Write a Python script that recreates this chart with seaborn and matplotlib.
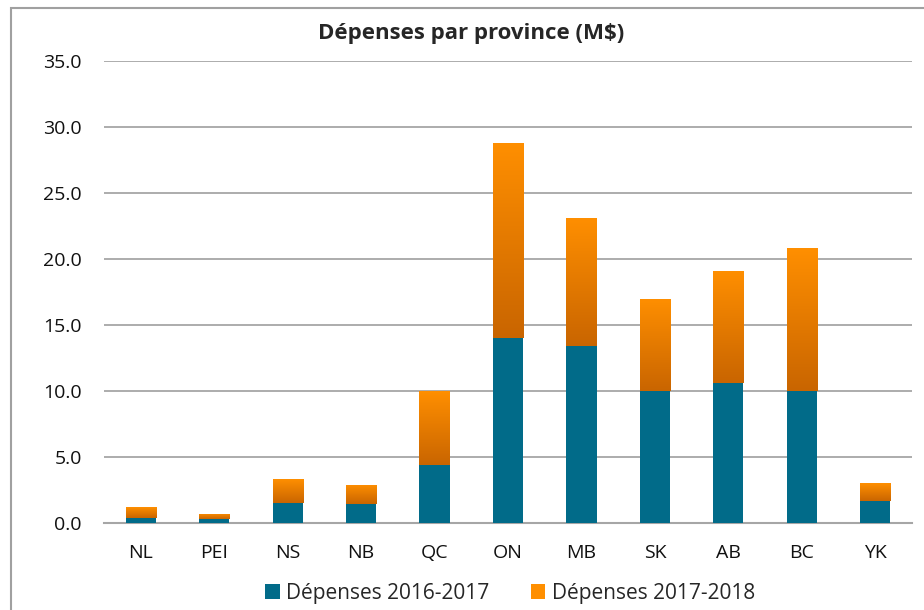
import numpy as np
import pandas as pd
import matplotlib
matplotlib.use('Agg')
import matplotlib.pyplot as plt
import seaborn as sns
from matplotlib.colors import LinearSegmentedColormap
from matplotlib.patches import Patch, Rectangle

# Data (M$)
provinces = ['NL', 'PEI', 'NS', 'NB', 'QC', 'ON', 'MB', 'SK', 'AB', 'BC', 'YK']
dep_2016_2017 = [0.4, 0.3, 1.55, 1.45, 4.4, 14.0, 13.4, 10.0, 10.6, 10.0, 1.7]
dep_2017_2018 = [0.8, 0.4, 1.8, 1.45, 5.6, 14.8, 9.7, 7.0, 8.5, 10.8, 1.3]

teal = '#016B89'
orange_top = '#FF8F00'
orange_bottom = '#C96500'
grid_col = '#A6A6A6'

sns.set_theme(style='white')
plt.rcParams['font.family'] = ['Open Sans', 'DejaVu Sans']

df = pd.DataFrame({'province': provinces,
                   'a': dep_2016_2017,
                   'b': dep_2017_2018})
df['total'] = df['a'] + df['b']

fig = plt.figure(figsize=(9.24, 6.1), dpi=100)
ax = fig.add_axes([104 / 924, 1 - 523 / 610, (912 - 104) / 924, (523 - 61) / 610])

# total bars first (orange), then teal on top of them
sns.barplot(data=df, x='province', y='total', color=orange_top, width=0.41,
            saturation=1, linewidth=0, ax=ax, zorder=3)
sns.barplot(data=df, x='province', y='a', color=teal, width=0.41,
            saturation=1, linewidth=0, ax=ax, zorder=4)

# gradient fill for the 2017-2018 part
cmap = LinearSegmentedColormap.from_list('org', [orange_bottom, orange_top])
grad = np.linspace(0, 1, 256).reshape(-1, 1)
n = len(provinces)
for i, p in enumerate(ax.patches[:n]):
    x0 = p.get_x()
    w = p.get_width()
    y0 = df['a'][i]
    y1 = df['total'][i]
    p.set_facecolor('none')
    im = ax.imshow(grad, cmap=cmap, origin='lower', aspect='auto',
                   extent=[x0, x0 + w, y0, y1], zorder=3.5)
    clip = Rectangle((x0, y0), w, y1 - y0, transform=ax.transData)
    im.set_clip_path(clip)

ax.set_xlim(-0.5, n - 0.5)
ax.set_ylim(0, 35)
ax.set_yticks(np.arange(0, 35.1, 5))
ax.set_yticklabels([f'{v:.1f}' for v in np.arange(0, 35.1, 5)])
ax.yaxis.grid(True, color=grid_col, linewidth=1.3, zorder=0)
ax.set_axisbelow(True)
for s in ['top', 'right', 'left']:
    ax.spines[s].set_visible(False)
ax.spines['bottom'].set_color(grid_col)
ax.spines['bottom'].set_linewidth(1.5)
ax.tick_params(axis='both', length=0, labelsize=14, colors='#111111')
ax.tick_params(axis='y', pad=16)
ax.tick_params(axis='x', pad=15)
ax.set_xlabel('')
ax.set_ylabel('')

fig.text(471 / 924, 1 - 33 / 610, 'Dépenses par province (M$)', ha='center', va='center',
         fontsize=16, fontweight='bold')

handles = [Patch(facecolor=teal, edgecolor='none', label='Dépenses 2016-2017'),
           Patch(facecolor=orange_top, edgecolor='none', label='Dépenses 2017-2018')]
fig.legend(handles=handles, loc='center', bbox_to_anchor=(510 / 924, 1 - 593 / 610),
           ncol=2, frameon=False, fontsize=15, handlelength=0.7, handleheight=0.7,
           handletextpad=0.3, columnspacing=2.0)

# outer chart border
fig.patches.append(Rectangle((11 / 924, -0.01), 1.02, 1.0 - 8 / 610 + 0.01,
                             transform=fig.transFigure, fill=False,
                             edgecolor='#A0A0A0', linewidth=1.5))

fig.savefig('out.png', dpi=100)
